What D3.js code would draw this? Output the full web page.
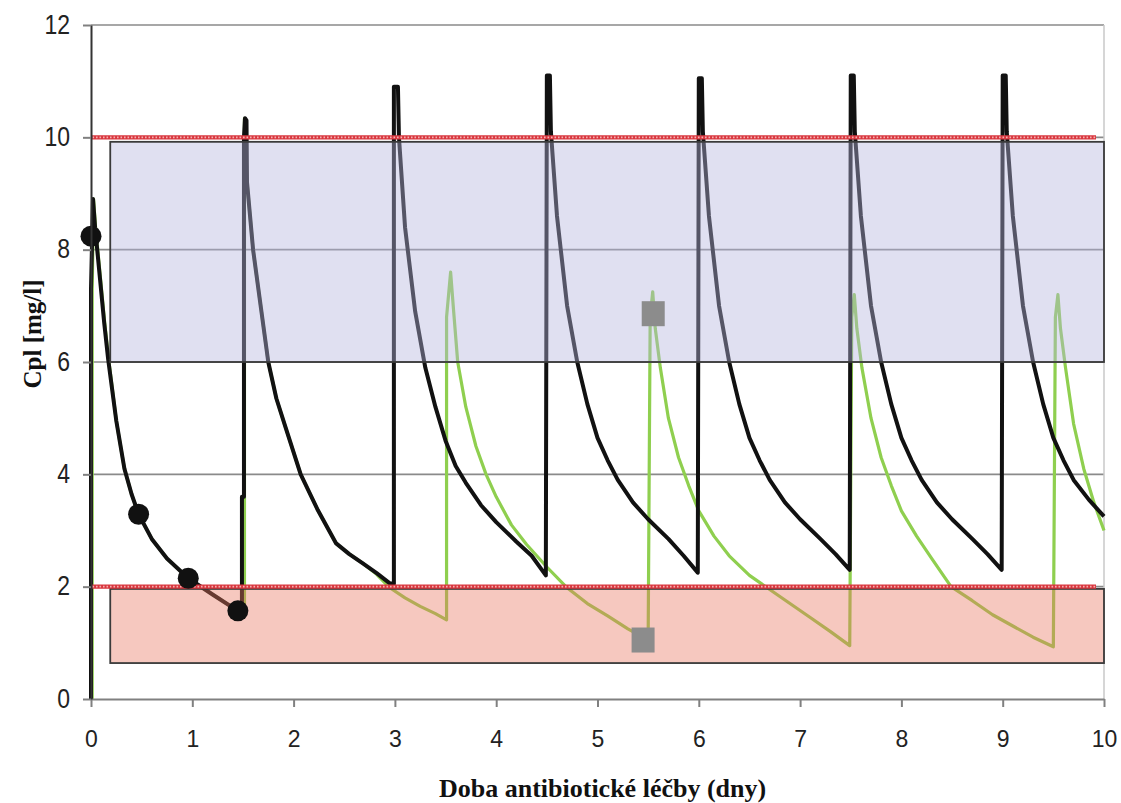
<!DOCTYPE html>
<html>
<head>
<meta charset="utf-8">
<script src="https://cdn.jsdelivr.net/npm/d3@7"></script>
<style>
  html, body { margin: 0; padding: 0; background: #fff; }
  svg { display: block; }
</style>
</head>
<body>
<svg id="chart" width="1121" height="803"></svg>
<script>
// Plasma concentration profile (Cpl, mg/l) over days of antibiotic therapy.

const xTicks = [0, 1, 2, 3, 4, 5, 6, 7, 8, 9, 10];
const yTicks = [0, 2, 4, 6, 8, 10, 12];

// Regimen A: dose every 1.5 days  [day, mg/l]
const blackCurve = [
  [0.00, 0.00], [0.00, 7.30], [0.02, 8.90], [0.04, 8.40], [0.09, 7.46], [0.13, 6.70],
  [0.17, 6.04], [0.25, 4.95], [0.33, 4.10], [0.40, 3.65], [0.47, 3.29], [0.60, 2.85],
  [0.75, 2.50], [0.96, 2.15], [1.20, 1.86], [1.45, 1.57], [1.49, 1.57],
  [1.49, 3.60], [1.51, 3.60], [1.51, 10.00], [1.52, 10.34], [1.535, 10.30], [1.54, 9.20],
  [1.60, 8.00], [1.68, 6.93], [1.75, 6.00], [1.83, 5.35], [1.92, 4.84], [2.07, 4.00],
  [2.24, 3.36], [2.42, 2.77], [2.55, 2.58], [2.68, 2.42], [2.82, 2.24], [2.95, 2.06], [2.99, 2.05],
  [2.99, 10.90], [3.03, 10.90], [3.04, 10.00], [3.10, 8.40], [3.20, 6.90], [3.30, 5.90],
  [3.40, 5.20], [3.50, 4.60], [3.60, 4.15], [3.70, 3.85], [3.85, 3.45], [4.00, 3.15],
  [4.20, 2.80], [4.35, 2.55], [4.49, 2.20],
  [4.50, 11.10], [4.53, 11.10], [4.54, 10.10], [4.60, 8.60], [4.70, 7.00], [4.80, 6.00],
  [4.90, 5.25], [5.00, 4.65], [5.10, 4.25], [5.20, 3.90], [5.35, 3.50], [5.50, 3.20],
  [5.70, 2.85], [5.85, 2.55], [5.99, 2.25],
  [6.00, 11.05], [6.03, 11.05], [6.04, 10.10], [6.10, 8.60], [6.20, 7.00], [6.30, 6.00],
  [6.40, 5.25], [6.50, 4.65], [6.60, 4.25], [6.70, 3.90], [6.85, 3.50], [7.00, 3.20],
  [7.20, 2.85], [7.35, 2.58], [7.49, 2.30],
  [7.50, 11.10], [7.53, 11.10], [7.54, 10.10], [7.60, 8.60], [7.70, 7.00], [7.80, 6.00],
  [7.90, 5.25], [8.00, 4.65], [8.10, 4.25], [8.20, 3.90], [8.35, 3.50], [8.50, 3.20],
  [8.70, 2.85], [8.85, 2.58], [8.99, 2.30],
  [9.00, 11.10], [9.03, 11.10], [9.04, 10.10], [9.10, 8.60], [9.20, 7.00], [9.30, 6.00],
  [9.40, 5.25], [9.50, 4.65], [9.60, 4.25], [9.70, 3.90], [9.85, 3.55], [10.00, 3.25]
];

// Regimen B: same start, then dose every 2 days  [day, mg/l]
const greenCurve = [
  [0.012, 0.00], [0.012, 7.30], [0.025, 8.90], [0.045, 8.40], [0.095, 7.46], [0.135, 6.70],
  [0.175, 6.04], [0.25, 4.95], [0.33, 4.10], [0.40, 3.65], [0.47, 3.29], [0.60, 2.85],
  [0.75, 2.50], [0.96, 2.15], [1.20, 1.86], [1.45, 1.57], [1.515, 1.57],
  [1.515, 10.34], [1.54, 9.20], [1.60, 8.00], [1.68, 6.93], [1.75, 6.00], [1.83, 5.35],
  [1.92, 4.84], [2.07, 4.00], [2.24, 3.36], [2.42, 2.77], [2.55, 2.58], [2.68, 2.42],
  [2.82, 2.22], [2.95, 1.98], [3.10, 1.80], [3.25, 1.65], [3.40, 1.52], [3.51, 1.41],
  [3.51, 6.80], [3.55, 7.60], [3.58, 6.90], [3.62, 6.00], [3.70, 5.20], [3.80, 4.50],
  [3.90, 4.00], [4.00, 3.60], [4.15, 3.10], [4.30, 2.75], [4.50, 2.35], [4.70, 1.98],
  [4.90, 1.70], [5.10, 1.48], [5.30, 1.25], [5.50, 1.05],
  [5.52, 6.80], [5.545, 7.25], [5.57, 6.60], [5.62, 5.90], [5.70, 5.00], [5.80, 4.30],
  [5.90, 3.80], [6.00, 3.35], [6.15, 2.90], [6.30, 2.55], [6.50, 2.20], [6.70, 1.95],
  [6.90, 1.70], [7.10, 1.45], [7.30, 1.20], [7.49, 0.95],
  [7.51, 6.80], [7.535, 7.20], [7.56, 6.60], [7.61, 5.90], [7.70, 5.00], [7.80, 4.30],
  [7.90, 3.80], [8.00, 3.35], [8.15, 2.90], [8.30, 2.50], [8.49, 2.00], [8.70, 1.75],
  [8.90, 1.50], [9.10, 1.30], [9.30, 1.10], [9.50, 0.93],
  [9.52, 6.80], [9.545, 7.20], [9.57, 6.60], [9.62, 5.90], [9.70, 4.90], [9.80, 4.10],
  [9.90, 3.50], [10.00, 3.00]
];

// Measured levels during the first dosing interval
const measuredLevels = [[0.00, 8.24], [0.47, 3.29], [0.96, 2.15], [1.45, 1.57]];

// Peak and trough levels for regimen B
const regimenBLevels = [[5.55, 6.86], [5.45, 1.05]];

// Target ranges: peak window and trough window  [xStart, xEnd, yLow, yHigh]
const peakWindow = [0.19, 10, 6, 9.92];
const troughWindow = [0.19, 10, 0.64, 1.96];

// Limits drawn as red reference lines
const limitLines = [10, 2];

const svg = d3.select("#chart");
const margin = { left: 91, right: 17, top: 25, bottom: 104 };
const W = 1121, H = 803;

const x = d3.scaleLinear().domain([0, 10]).range([margin.left, W - margin.right]);
const y = d3.scaleLinear().domain([0, 12]).range([H - margin.bottom, margin.top]);

// Horizontal gridlines
svg.append("g")
  .selectAll("line")
  .data(yTicks.filter(d => d > 0))
  .join("line")
  .attr("x1", x(0)).attr("x2", x(10))
  .attr("y1", d => y(d)).attr("y2", d => y(d))
  .attr("stroke", "#8a8a8a").attr("stroke-width", 1.6);

// Right frame edge
svg.append("line")
  .attr("x1", x(10)).attr("x2", x(10))
  .attr("y1", y(12)).attr("y2", y(0))
  .attr("stroke", "#c8c8c8").attr("stroke-width", 1.5);

const line = d3.line().x(d => x(d[0])).y(d => y(d[1])).curve(d3.curveLinear);

svg.append("path")
  .datum(greenCurve)
  .attr("d", line)
  .attr("fill", "none")
  .attr("stroke", "#8fcf4f")
  .attr("stroke-width", 3.2)
  .attr("stroke-linejoin", "round");

svg.append("path")
  .datum(blackCurve)
  .attr("d", line)
  .attr("fill", "none")
  .attr("stroke", "#111")
  .attr("stroke-width", 4)
  .attr("stroke-linejoin", "round");

// Translucent target windows laid over the curves
function windowRect(w, fill, opacity) {
  svg.append("rect")
    .attr("x", x(w[0])).attr("y", y(w[3]))
    .attr("width", x(w[1]) - x(w[0]))
    .attr("height", y(w[2]) - y(w[3]))
    .attr("fill", fill).attr("fill-opacity", opacity)
    .attr("stroke", "#3a3a3a").attr("stroke-width", 1.8);
}
windowRect(peakWindow, "rgb(182,180,222)", 0.42);
windowRect(troughWindow, "rgb(232,118,94)", 0.40);

// Red dotted limit lines
limitLines.forEach(v => {
  svg.append("line")
    .attr("x1", x(0)).attr("x2", x(10) - 8)
    .attr("y1", y(v)).attr("y2", y(v))
    .attr("stroke", "#d9363e").attr("stroke-width", 4.2);
  svg.append("line")
    .attr("x1", x(0) + 1.5).attr("x2", x(10) - 8)
    .attr("y1", y(v)).attr("y2", y(v))
    .attr("stroke", "#f4b0b0").attr("stroke-width", 1.6)
    .attr("stroke-dasharray", "1.6 1.9");
});

// Measured levels
svg.append("g")
  .selectAll("circle")
  .data(measuredLevels)
  .join("circle")
  .attr("cx", d => x(d[0])).attr("cy", d => y(d[1]))
  .attr("r", 10.5)
  .attr("fill", "#111");

// Regimen B peak and trough markers
svg.append("g")
  .selectAll("rect")
  .data(regimenBLevels)
  .join("rect")
  .attr("x", d => x(d[0]) - 11.5).attr("y", d => y(d[1]) - 12.5)
  .attr("width", 23).attr("height", 25)
  .attr("fill", "#8c8c8c");

// Axes
const xAxis = d3.axisBottom(x).tickValues(xTicks).tickSize(8).tickSizeOuter(0).tickPadding(24);
const gx = svg.append("g").attr("transform", `translate(0,${y(0)})`).call(xAxis);
gx.select(".domain").attr("stroke", "#808080").attr("stroke-width", 2);
gx.selectAll(".tick line").attr("stroke", "#808080").attr("stroke-width", 2);
gx.selectAll(".tick text")
  .attr("font-family", "Liberation Sans, Arial, sans-serif")
  .attr("font-size", 23).attr("fill", "#222");

const yAxis = d3.axisLeft(y).tickValues(yTicks).tickSize(8).tickSizeOuter(0).tickPadding(13);
const gy = svg.append("g").attr("transform", `translate(${x(0)},0)`).call(yAxis);
gy.select(".domain").attr("stroke", "#333").attr("stroke-width", 2);
gy.selectAll(".tick line").attr("stroke", "#808080").attr("stroke-width", 2);
gy.selectAll(".tick text")
  .attr("font-family", "Liberation Sans, Arial, sans-serif")
  .attr("font-size", 23).attr("fill", "#222")
  .attr("dy", "0.3em")
  .attr("transform", "scale(1,1.2)");

// Axis titles
svg.append("text")
  .attr("x", x(5.05)).attr("y", 797)
  .attr("text-anchor", "middle")
  .attr("font-family", "Liberation Serif, Times New Roman, serif")
  .attr("font-weight", "bold").attr("font-size", 26).attr("fill", "#111")
  .text("Doba antibiotické léčby (dny)");

svg.append("text")
  .attr("transform", `translate(41,${y(6.5)}) rotate(-90)`)
  .attr("text-anchor", "middle")
  .attr("font-family", "Liberation Serif, Times New Roman, serif")
  .attr("font-weight", "bold").attr("font-size", 25).attr("fill", "#111")
  .text("Cpl [mg/l]");
</script>
</body>
</html>
